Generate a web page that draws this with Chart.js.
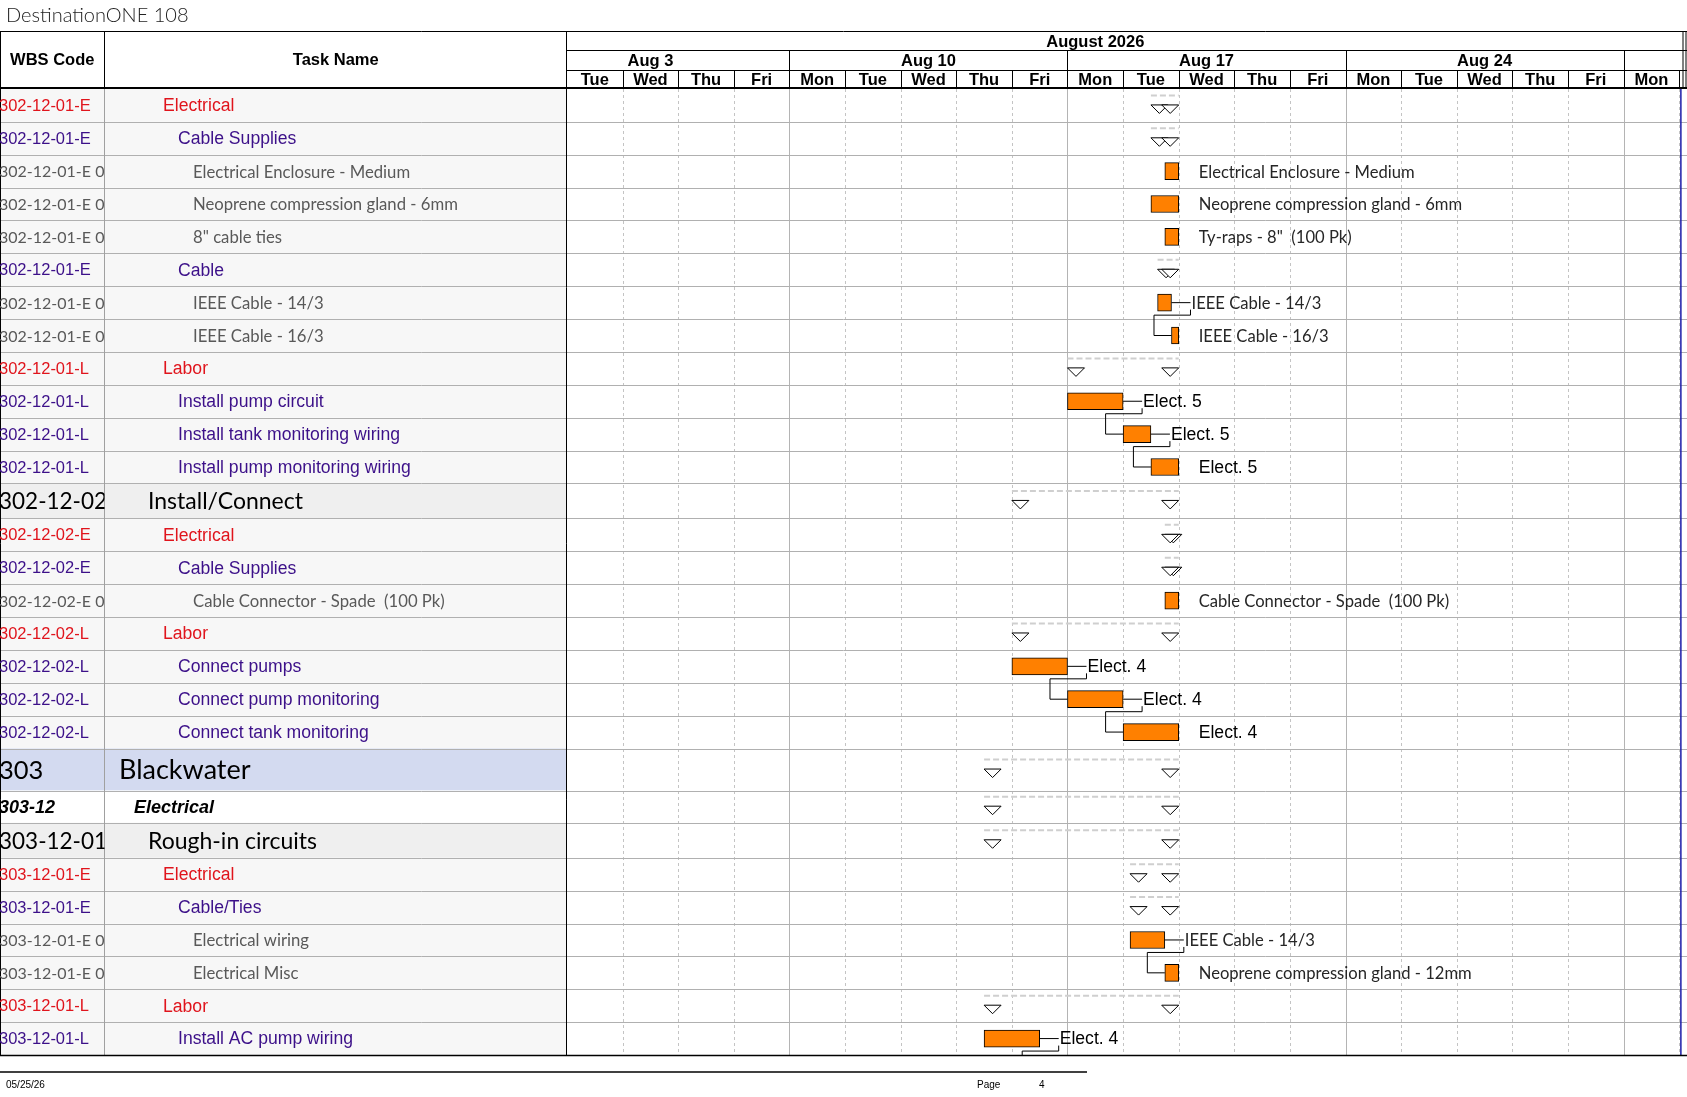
<!DOCTYPE html>
<html>
<head>
<meta charset="utf-8">
<title>DestinationONE 108</title>
<script src="https://cdn.jsdelivr.net/npm/chart.js@4.4.1/dist/chart.umd.min.js"></script>
<style>
  html, body { margin: 0; padding: 0; background: #fff; }
  #wrap { width: 1687px; height: 1097px; }
</style>
</head>
<body>
<div id="wrap"><canvas id="gantt" width="1687" height="1097"></canvas></div>
<script>
// values; time is in working days counted from Mon Aug 3 2026
const wbsCodes = [
  "302-12-01-E", "302-12-01-E", "302-12-01-E 0", "302-12-01-E 0", "302-12-01-E 0",
  "302-12-01-E", "302-12-01-E 0", "302-12-01-E 0", "302-12-01-L", "302-12-01-L",
  "302-12-01-L", "302-12-01-L", "302-12-02", "302-12-02-E", "302-12-02-E",
  "302-12-02-E 0", "302-12-02-L", "302-12-02-L", "302-12-02-L", "302-12-02-L",
  "303", "303-12", "303-12-01", "303-12-01-E", "303-12-01-E",
  "303-12-01-E 0", "303-12-01-E 0", "303-12-01-L", "303-12-01-L"
];
const taskNames = [
  "Electrical", "Cable Supplies", "Electrical Enclosure - Medium", "Neoprene compression gland - 6mm", "8\" cable ties",
  "Cable", "IEEE Cable - 14/3", "IEEE Cable - 16/3", "Labor", "Install pump circuit",
  "Install tank monitoring wiring", "Install pump monitoring wiring", "Install/Connect", "Electrical", "Cable Supplies",
  "Cable Connector - Spade  (100 Pk)", "Labor", "Connect pumps", "Connect pump monitoring", "Connect tank monitoring",
  "Blackwater", "Electrical", "Rough-in circuits", "Electrical", "Cable/Ties",
  "Electrical wiring", "Electrical Misc", "Labor", "Install AC pump wiring"
];
const outlineLevels = [4, 5, 6, 6, 6, 5, 6, 6, 4, 5, 5, 5, 3, 4, 5, 6, 4, 5, 5, 5, 1, 2, 3, 4, 5, 6, 6, 4, 5];
const isSummary = [true, true, false, false, false, true, false, false, true, false, false, false, true, true, true,
  false, true, false, false, false, true, true, true, true, true, false, false, true, false];
const taskStart = [11.5, 11.5, 11.75, 11.5, 11.75, 11.62, 11.62, 11.87, 10, 10, 11, 11.5, 9, 11.75, 11.75,
  11.75, 9, 9, 10, 11, 8.5, 8.5, 8.5, 11.125, 11.125, 11.125, 11.75, 8.5, 8.5];
const taskEnd = [12, 12, 12, 12, 12, 12, 11.87, 12, 12, 11, 11.5, 12, 12, 12, 12,
  12, 12, 10, 11, 12, 12, 12, 12, 12, 12, 11.75, 12, 12, 9.5];
const barLabels = [
  "", "", "Electrical Enclosure - Medium", "Neoprene compression gland - 6mm", "Ty-raps - 8\"  (100 Pk)",
  "", "IEEE Cable - 14/3", "IEEE Cable - 16/3", "", "Elect. 5",
  "Elect. 5", "Elect. 5", "", "", "",
  "Cable Connector - Spade  (100 Pk)", "", "Elect. 4", "Elect. 4", "Elect. 4",
  "", "", "", "", "",
  "IEEE Cable - 14/3", "Neoprene compression gland - 12mm", "", "Elect. 4"
];
// finish-to-start links [predecessor row, successor row]; row 29 is on the next page
const links = [[6, 7], [9, 10], [10, 11], [17, 18], [18, 19], [25, 26], [28, 29]];

const monthLabel = "August 2026";
const weekLabels = ["Aug 3", "Aug 10", "Aug 17", "Aug 24"];
const dayNames = ["Mon", "Tue", "Wed", "Thu", "Fri"];
const viewStart = 1;      // Tue Aug 4
const viewEnd = 21.14;
const finishLine = 21.03;

// ---- layout ----
const frame = { left: 567, top: 89, bottom: 1055, right: 1687, wbsRight: 104.5,
  headTop: 31.5, monthBottom: 50.5, weekBottom: 70.5 };
const levelStyle = {
  1: { font: "27px Lato", wbsFont: "25.5px Lato", color: "#000", indent: 119, bg: "#d3daf0", weight: 1.28 },
  2: { font: "italic bold 18px 'Liberation Sans'", wbsFont: "italic bold 18px 'Liberation Sans'", color: "#000", indent: 134, bg: "#ffffff", weight: 0.98 },
  3: { font: "23px Lato", wbsFont: "22.5px Lato", color: "#000", indent: 148, bg: "#efefef", weight: 1.065 },
  4: { font: "17.6px 'Liberation Sans'", wbsFont: "16.5px 'Liberation Sans'", color: "#e0141c", indent: 163, bg: "#f7f7f7", weight: 1 },
  5: { font: "17.6px 'Liberation Sans'", wbsFont: "16.5px 'Liberation Sans'", color: "#3c1089", indent: 178, bg: "#f7f7f7", weight: 1 },
  6: { font: "16.7px Lato", wbsFont: "16px Lato", color: "#595959", indent: 193, bg: "#f7f7f7", weight: 1 }
};
const labelStyle = {
  5: { font: "17.6px 'Liberation Sans'", color: "#000" },
  6: { font: "16.6px Lato", color: "#262626" }
};

const rowTopU = [];
const rowCenterU = [];
let acc = 0;
outlineLevels.forEach(lv => {
  const w = levelStyle[lv].weight;
  rowTopU.push(acc);
  rowCenterU.push(acc + w / 2);
  acc += w;
});
rowTopU.push(acc);
const totalUnits = acc;

const barPoints = [];
taskNames.forEach((n, i) => {
  if (!isSummary[i]) barPoints.push({ x: [taskStart[i], taskEnd[i]], y: rowCenterU[i] });
});

function line(ctx, x1, y1, x2, y2) {
  ctx.beginPath();
  ctx.moveTo(x1, y1);
  ctx.lineTo(x2, y2);
  ctx.stroke();
}

const ganttSheet = {
  id: "ganttSheet",
  beforeDraw(chart) {
    const ctx = chart.ctx;
    const xs = chart.scales.x, ys = chart.scales.y;
    const X = v => xs.getPixelForValue(v);
    const Y = v => ys.getPixelForValue(v);
    ctx.save();
    ctx.fillStyle = "#fff";
    ctx.fillRect(0, 0, chart.width, chart.height);

    // table row backgrounds
    outlineLevels.forEach((lv, i) => {
      ctx.fillStyle = levelStyle[lv].bg;
      ctx.fillRect(0, Y(rowTopU[i]), frame.left, Y(rowTopU[i + 1]) - Y(rowTopU[i]));
    });

    // day / week grid in the timeline
    ctx.lineWidth = 1;
    for (let d = Math.ceil(viewStart); d <= viewEnd; d++) {
      const px = Math.round(X(d)) + 0.5;
      if (d % 5 === 0) {
        ctx.strokeStyle = "#b4b4b4";
        ctx.setLineDash([]);
      } else {
        ctx.strokeStyle = "#c4c4c4";
        ctx.setLineDash([3, 3]);
      }
      if (d > viewStart) line(ctx, px, frame.top, px, frame.bottom);
    }
    ctx.setLineDash([]);

    // row lines
    ctx.strokeStyle = "#b0b0b0";
    for (let i = 1; i < rowTopU.length - 1; i++) {
      const py = Math.round(Y(rowTopU[i])) + 0.5;
      line(ctx, 0, py, frame.right, py);
    }
    // column lines in the body
    ctx.strokeStyle = "#a0a0a0";
    line(ctx, frame.wbsRight, frame.top, frame.wbsRight, frame.bottom);
    ctx.strokeStyle = "#000";
    line(ctx, frame.left - 0.5, frame.headTop, frame.left - 0.5, frame.bottom);
    line(ctx, 0.5, frame.headTop, 0.5, frame.bottom);

    // table text
    outlineLevels.forEach((lv, i) => {
      const st = levelStyle[lv];
      const cy = Y(rowCenterU[i]) + 1;
      ctx.fillStyle = st.color;
      ctx.textBaseline = "middle";
      ctx.textAlign = "left";
      ctx.save();
      ctx.beginPath();
      ctx.rect(0, cy - 25, frame.wbsRight, 50);
      ctx.clip();
      ctx.font = st.wbsFont;
      ctx.fillText(wbsCodes[i], -1, cy);
      ctx.restore();
      ctx.font = st.font;
      ctx.fillText(taskNames[i], st.indent, cy);
    });

    // header
    ctx.strokeStyle = "#000";
    ctx.lineWidth = 1;
    line(ctx, 0, frame.headTop, frame.right, frame.headTop);
    line(ctx, frame.wbsRight, frame.headTop, frame.wbsRight, frame.top);
    line(ctx, frame.left, frame.monthBottom, frame.right, frame.monthBottom);
    line(ctx, frame.left, frame.weekBottom, frame.right, frame.weekBottom);
    ctx.lineWidth = 2;
    line(ctx, 0, frame.top - 1, frame.right, frame.top - 1);
    ctx.lineWidth = 1;
    for (let d = Math.ceil(viewStart) + 1; d <= viewEnd; d++) {
      const px = Math.round(X(d)) + 0.5;
      line(ctx, px, frame.weekBottom, px, frame.top);
      if (d % 5 === 0) line(ctx, px, frame.monthBottom, px, frame.weekBottom);
    }
    line(ctx, 1683, frame.headTop, 1683, frame.top);
    line(ctx, 1686, frame.headTop, 1686, frame.top);

    ctx.fillStyle = "#000";
    ctx.font = "bold 16.5px 'Liberation Sans'";
    ctx.textAlign = "center";
    ctx.textBaseline = "middle";
    ctx.fillText("WBS Code", frame.wbsRight / 2, 60);
    ctx.fillText("Task Name", (frame.wbsRight + frame.left) / 2, 60);

    ctx.save();
    ctx.beginPath();
    ctx.rect(frame.left, 0, frame.right - frame.left, frame.top);
    ctx.clip();
    ctx.fillText(monthLabel, (X(0) + X(21)) / 2, 42);
    weekLabels.forEach((w, k) => ctx.fillText(w, (X(k * 5) + X(k * 5 + 5)) / 2, 61.5));
    for (let d = Math.floor(viewStart); d < viewEnd; d++) {
      ctx.fillText(dayNames[d % 5], (X(d) + X(d + 1)) / 2, 80.5);
    }
    ctx.restore();

    // title and footer
    ctx.textAlign = "left";
    ctx.fillStyle = "#222";
    ctx.font = "300 20px Lato";
    ctx.fillText("DestinationONE 108", 6, 15.5);
    ctx.strokeStyle = "#000";
    ctx.lineWidth = 1.5;
    line(ctx, 0, 1072, 1087, 1072);
    ctx.font = "10px 'Liberation Sans Narrow', 'Liberation Sans'";
    ctx.fillStyle = "#000";
    ctx.fillText("05/25/26", 6, 1085);
    ctx.fillText("Page", 977, 1085);
    ctx.fillText("4", 1039, 1085);
    ctx.restore();
  },
  afterDatasetsDraw(chart) {
    const ctx = chart.ctx;
    const xs = chart.scales.x, ys = chart.scales.y;
    const X = v => xs.getPixelForValue(v);
    const Y = v => ys.getPixelForValue(v);
    ctx.save();
    ctx.beginPath();
    ctx.rect(frame.left, frame.top, frame.right - frame.left, frame.bottom - frame.top);
    ctx.clip();

    // summary bars: dashed top line with open triangles at both ends
    outlineLevels.forEach((lv, i) => {
      if (!isSummary[i]) return;
      const cy = Y(rowCenterU[i]);
      const x0 = X(taskStart[i]), x1 = X(taskEnd[i]);
      ctx.strokeStyle = "#cfcfcf";
      ctx.lineWidth = 2;
      ctx.setLineDash([6, 3]);
      line(ctx, x0, cy - 10, x1, cy - 10);
      ctx.setLineDash([]);
      ctx.lineWidth = 1;
      ctx.strokeStyle = "#000";
      ctx.fillStyle = "#fff";
      [x0, x1 - 17].forEach(tx => {
        ctx.beginPath();
        ctx.moveTo(tx, cy - 0.5);
        ctx.lineTo(tx + 17, cy - 0.5);
        ctx.lineTo(tx + 8.5, cy + 8);
        ctx.closePath();
        ctx.fill();
        ctx.stroke();
      });
    });

    // link lines: finish of predecessor -> start of successor
    ctx.strokeStyle = "#000";
    ctx.lineWidth = 1;
    links.forEach(([p, s]) => {
      const pe = X(taskEnd[p]);
      const cy = Y(rowCenterU[p]);
      const ss = s < taskNames.length ? X(taskStart[s]) : pe;
      const sy = s < taskNames.length ? Y(rowCenterU[s]) : cy + 40;
      line(ctx, pe, cy, pe + 19, cy);
      ctx.beginPath();
      ctx.moveTo(pe + 19, cy + 7);
      ctx.lineTo(pe + 19, cy + 12.5);
      ctx.lineTo(ss - 17.5, cy + 12.5);
      ctx.lineTo(ss - 17.5, sy);
      ctx.lineTo(ss, sy);
      ctx.stroke();
    });
    ctx.restore();

    // bar labels
    ctx.save();
    ctx.textAlign = "left";
    ctx.textBaseline = "middle";
    barLabels.forEach((t, i) => {
      if (!t) return;
      const st = labelStyle[outlineLevels[i]];
      ctx.font = st.font;
      ctx.fillStyle = st.color;
      ctx.fillText(t, X(taskEnd[i]) + 20, Y(rowCenterU[i]) + 1);
    });

    // finish line and bottom border
    ctx.strokeStyle = "#1c1ca8";
    ctx.lineWidth = 1.5;
    line(ctx, X(finishLine), frame.top, X(finishLine), frame.bottom);
    ctx.strokeStyle = "#000";
    ctx.lineWidth = 1.5;
    line(ctx, 0, frame.bottom + 0.5, frame.right, frame.bottom + 0.5);
    ctx.restore();
  }
};

new Chart(document.getElementById("gantt"), {
  type: "bar",
  data: {
    datasets: [{
      label: "Tasks",
      data: barPoints,
      backgroundColor: "#ff8000",
      borderColor: "#000",
      borderWidth: 1,
      borderSkipped: false,
      barThickness: 17
    }]
  },
  options: {
    indexAxis: "y",
    responsive: false,
    animation: false,
    devicePixelRatio: 1,
    layout: { padding: { left: frame.left, top: frame.top, right: 1687 - frame.right, bottom: 1097 - frame.bottom } },
    scales: {
      x: { type: "linear", min: viewStart, max: viewEnd, display: false, offset: false },
      y: { type: "linear", min: 0, max: totalUnits, reverse: true, display: false, offset: false,
           grid: { offset: false } }
    },
    plugins: { legend: { display: false }, tooltip: { enabled: false } }
  },
  plugins: [ganttSheet]
});
</script>
</body>
</html>
